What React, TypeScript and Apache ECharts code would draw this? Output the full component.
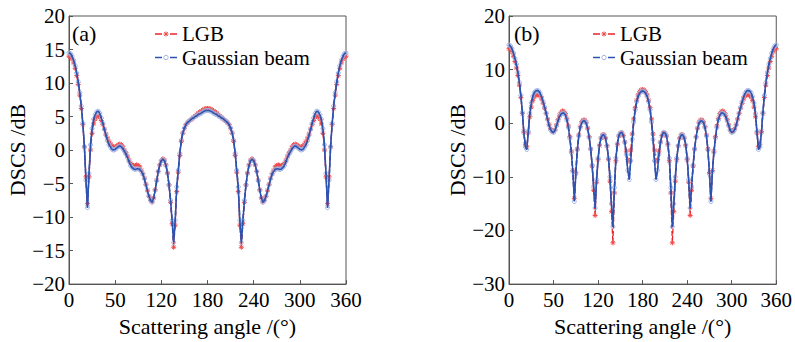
import React, { useEffect, useRef } from "react";
import * as echarts from "echarts";

const angles = [
  0, 2, 4, 6, 8, 10, 12, 14, 16, 18, 20, 22, 24, 26, 28, 30, 32, 34, 36, 38,
  40, 42, 44, 46, 48, 50, 52, 54, 56, 58, 60, 62, 64, 66, 68, 70, 72, 74, 76, 78,
  80, 82, 84, 86, 88, 90, 92, 94, 96, 98, 100, 102, 104, 106, 108, 110, 112, 114, 116, 118,
  120, 122, 124, 126, 128, 130, 132, 134, 136, 138, 140, 142, 144, 146, 148, 150, 152, 154, 156, 158,
  160, 162, 164, 166, 168, 170, 172, 174, 176, 178, 180, 182, 184, 186, 188, 190, 192, 194, 196, 198,
  200, 202, 204, 206, 208, 210, 212, 214, 216, 218, 220, 222, 224, 226, 228, 230, 232, 234, 236, 238,
  240, 242, 244, 246, 248, 250, 252, 254, 256, 258, 260, 262, 264, 266, 268, 270, 272, 274, 276, 278,
  280, 282, 284, 286, 288, 290, 292, 294, 296, 298, 300, 302, 304, 306, 308, 310, 312, 314, 316, 318,
  320, 322, 324, 326, 328, 330, 332, 334, 336, 338, 340, 342, 344, 346, 348, 350, 352, 354, 356, 358,
  360,
];

// Panel (a)
const lgbA = [
  14.0, 13.9, 13.6, 13.0, 12.2, 11.1, 9.8, 8.2, 6.2, 3.8,
  0.5, -4.0, -8.0, -4.0, 0.0, 2.5, 3.9, 4.6, 5.0, 5.1,
  4.9, 4.4, 3.8, 3.1, 2.4, 1.8, 1.3, 0.9, 0.6, 0.45,
  0.45, 0.6, 0.8, 0.9, 0.8, 0.5, 0.0, -0.4, -0.9, -1.5,
  -2.0, -2.2, -2.3, -2.3, -2.2, -2.3, -2.5, -3.0, -3.5, -4.2,
  -5.1, -6.0, -6.9, -7.5, -7.7, -7.1, -5.9, -4.5, -3.2, -2.2,
  -1.6, -1.3, -1.5, -2.2, -3.4, -5.2, -7.8, -11.0, -14.5, -11.2,
  -6.2, -3.3, -0.8, 1.3, 2.5, 3.2, 3.8, 4.1, 4.3, 4.5,
  4.7, 4.9, 5.1, 5.3, 5.5, 5.7, 5.8, 6.0, 6.1, 6.2,
  6.2,
  6.2, 6.1, 6.0, 5.8, 5.7, 5.5, 5.3, 5.1, 4.9, 4.7,
  4.5, 4.3, 4.1, 3.8, 3.2, 2.5, 1.3, -0.8, -3.3, -6.2,
  -11.2, -14.5, -11.0, -7.8, -5.2, -3.4, -2.2, -1.5, -1.3, -1.6,
  -2.2, -3.2, -4.5, -5.9, -7.1, -7.7, -7.5, -6.9, -6.0, -5.1,
  -4.2, -3.5, -3.0, -2.5, -2.3, -2.2, -2.3, -2.3, -2.2, -2.0,
  -1.5, -0.9, -0.4, 0.0, 0.5, 0.8, 0.9, 0.8, 0.6, 0.45,
  0.45, 0.6, 0.9, 1.3, 1.8, 2.4, 3.1, 3.8, 4.4, 4.9,
  5.1, 5.0, 4.6, 3.9, 2.5, 0.0, -4.0, -8.0, -4.0, 0.5,
  3.8, 6.2, 8.2, 9.8, 11.1, 12.2, 13.0, 13.6, 13.9, 14.0,
];

const gaussA = [
  14.5, 14.4, 14.0, 13.4, 12.6, 11.5, 10.2, 8.6, 6.6, 4.0,
  0.5, -4.5, -8.6, -3.5, 0.8, 3.2, 4.6, 5.3, 5.7, 5.8,
  5.5, 4.8, 4.0, 3.1, 2.2, 1.4, 0.8, 0.4, 0.1, 0.0,
  0.1, 0.3, 0.5, 0.6, 0.5, 0.2, -0.2, -0.6, -1.1, -1.7,
  -2.3, -2.6, -2.8, -2.9, -2.8, -2.8, -2.9, -3.2, -3.6, -4.3,
  -5.2, -6.1, -6.9, -7.5, -7.8, -7.2, -6.0, -4.6, -3.2, -2.2,
  -1.6, -1.4, -1.6, -2.3, -3.5, -5.2, -7.5, -10.5, -13.8, -10.5,
  -5.5, -3.0, -0.5, 1.5, 2.6, 3.3, 3.8, 4.1, 4.3, 4.5,
  4.7, 4.8, 5.0, 5.1, 5.3, 5.4, 5.5, 5.7, 5.8, 5.9,
  5.9,
  5.9, 5.8, 5.7, 5.5, 5.4, 5.3, 5.1, 5.0, 4.8, 4.7,
  4.5, 4.3, 4.1, 3.8, 3.3, 2.6, 1.5, -0.5, -3.0, -5.5,
  -10.5, -13.8, -10.5, -7.5, -5.2, -3.5, -2.3, -1.6, -1.4, -1.6,
  -2.2, -3.2, -4.6, -6.0, -7.2, -7.8, -7.5, -6.9, -6.1, -5.2,
  -4.3, -3.6, -3.2, -2.9, -2.8, -2.8, -2.9, -2.8, -2.6, -2.3,
  -1.7, -1.1, -0.6, -0.2, 0.2, 0.5, 0.6, 0.5, 0.3, 0.1,
  0.0, 0.1, 0.4, 0.8, 1.4, 2.2, 3.1, 4.0, 4.8, 5.5,
  5.8, 5.7, 5.3, 4.6, 3.2, 0.8, -3.5, -8.6, -4.5, 0.5,
  4.0, 6.6, 8.6, 10.2, 11.5, 12.6, 13.4, 14.0, 14.4, 14.5,
];

// Panel (b)
const lgbB = [
  13.9, 13.8, 13.3, 12.5, 11.5, 10.3, 8.9, 7.1, 4.8, 1.8,
  -1.5, -3.9, -4.4, -1.8, 1.2, 3.0, 4.2, 4.9, 5.2, 5.3,
  5.3, 5.0, 4.5, 3.7, 2.8, 1.8, 0.8, -0.2, -1.0, -1.5,
  -1.6, -1.2, -0.3, 0.7, 1.5, 2.0, 2.3, 2.2, 1.8, 0.9,
  -0.5, -2.5, -5.2, -8.8, -14.0, -9.2, -4.8, -2.2, -0.6, 0.3,
  0.6, 0.6, 0.2, -0.9, -2.5, -4.8, -8.0, -12.5, -17.2, -11.0,
  -6.8, -4.2, -2.8, -2.2, -2.1, -2.7, -4.2, -6.8, -10.8, -16.5,
  -22.3, -13.0, -7.0, -4.0, -2.4, -1.9, -1.8, -2.3, -3.5, -5.2,
  -6.8, -7.1, -5.0, -2.0, 0.8, 2.9, 4.3, 5.3, 5.9, 6.2,
  6.3,
  6.2, 5.9, 5.3, 4.3, 2.9, 0.8, -2.0, -5.0, -7.1, -6.8,
  -5.2, -3.5, -2.3, -1.8, -1.9, -2.4, -4.0, -7.0, -13.0, -22.3,
  -16.5, -10.8, -6.8, -4.2, -2.7, -2.1, -2.2, -2.8, -4.2, -6.8,
  -11.0, -17.2, -12.5, -8.0, -4.8, -2.5, -0.9, 0.2, 0.6, 0.6,
  0.3, -0.6, -2.2, -4.8, -9.2, -14.0, -8.8, -5.2, -2.5, -0.5,
  0.9, 1.8, 2.2, 2.3, 2.0, 1.5, 0.7, -0.3, -1.2, -1.6,
  -1.5, -1.0, -0.2, 0.8, 1.8, 2.8, 3.7, 4.5, 5.0, 5.3,
  5.3, 5.2, 4.9, 4.2, 3.0, 1.2, -1.8, -4.4, -3.9, -1.5,
  1.8, 4.8, 7.1, 8.9, 10.3, 11.5, 12.5, 13.3, 13.8, 13.9,
];

const gaussB = [
  14.6, 14.4, 13.9, 13.1, 12.1, 11.0, 9.5, 7.6, 5.2, 2.0,
  -1.8, -4.4, -4.9, -1.5, 1.8, 3.8, 5.0, 5.7, 6.0, 6.1,
  6.0, 5.6, 4.9, 4.0, 3.0, 1.9, 0.7, -0.4, -1.2, -1.6,
  -1.7, -1.3, -0.5, 0.4, 1.2, 1.7, 1.9, 1.9, 1.5, 0.6,
  -0.8, -2.8, -5.5, -9.0, -14.6, -9.5, -5.0, -2.4, -0.8, 0.1,
  0.4, 0.4, 0.0, -1.0, -2.6, -4.8, -7.8, -11.8, -15.8, -10.5,
  -6.5, -4.0, -2.7, -2.2, -2.2, -2.8, -4.2, -6.5, -10.0, -15.0,
  -19.3, -12.0, -6.5, -3.8, -2.3, -1.8, -1.7, -2.3, -3.6, -5.8,
  -8.8, -10.5, -7.0, -3.0, 0.2, 2.5, 4.0, 5.0, 5.6, 5.9,
  6.0,
  5.9, 5.6, 5.0, 4.0, 2.5, 0.2, -3.0, -7.0, -10.5, -8.8,
  -5.8, -3.6, -2.3, -1.7, -1.8, -2.3, -3.8, -6.5, -12.0, -19.3,
  -15.0, -10.0, -6.5, -4.2, -2.8, -2.2, -2.2, -2.7, -4.0, -6.5,
  -10.5, -15.8, -11.8, -7.8, -4.8, -2.6, -1.0, 0.0, 0.4, 0.4,
  0.1, -0.8, -2.4, -5.0, -9.5, -14.6, -9.0, -5.5, -2.8, -0.8,
  0.6, 1.5, 1.9, 1.9, 1.7, 1.2, 0.4, -0.5, -1.3, -1.7,
  -1.6, -1.2, -0.4, 0.7, 1.9, 3.0, 4.0, 4.9, 5.6, 6.0,
  6.1, 6.0, 5.7, 5.0, 3.8, 1.8, -1.5, -4.9, -4.4, -1.8,
  2.0, 5.2, 7.6, 9.5, 11.0, 12.1, 13.1, 13.9, 14.4, 14.6,
];

const xTickLabels = ["0", "50", "120", "180", "240", "300", "360"];
const seriesNames = ["LGB", "Gaussian beam"];
const panelLabels = ["(a)", "(b)"];
const xAxisTitle = "Scattering angle /(°)";
const yAxisTitle = "DSCS /dB";

const FONT = "Liberation Serif, DejaVu Serif, Noto Serif, Times New Roman, serif";
const RED = "#e8232a";
const RED_MARK = "#f24a4a";
const BLUE = "#2d53b0";
const BLUE_MARK = "#9fb2e2";
const STAR = "path://M5,0L5,10M0,5L10,5M1.5,1.5L8.5,8.5M1.5,8.5L8.5,1.5";

function pairs(vals: number[]) {
  return angles.map((a, i) => [a, vals[i]]);
}

function legendGraphics(x0: number, rowYs: number[]): any[] {
  const out: any[] = [];
  const rows = [
    { name: seriesNames[0], color: RED, mark: "star" },
    { name: seriesNames[1], color: BLUE, mark: "circle" },
  ];
  rows.forEach((r, i) => {
    const y = rowYs[i];
    const cx = x0 + 11;
    out.push({ type: "line", shape: { x1: x0, y1: y, x2: x0 + 7, y2: y }, style: { stroke: r.color, lineWidth: 1.5 }, silent: true });
    out.push({ type: "line", shape: { x1: x0 + 15, y1: y, x2: x0 + 22, y2: y }, style: { stroke: r.color, lineWidth: 1.5 }, silent: true });
    if (r.mark === "star") {
      out.push({ type: "line", shape: { x1: cx - 2.5, y1: y, x2: cx + 2.5, y2: y }, style: { stroke: RED_MARK, lineWidth: 1 }, silent: true });
      out.push({ type: "line", shape: { x1: cx, y1: y - 2.5, x2: cx, y2: y + 2.5 }, style: { stroke: RED_MARK, lineWidth: 1 }, silent: true });
      out.push({ type: "line", shape: { x1: cx - 1.8, y1: y - 1.8, x2: cx + 1.8, y2: y + 1.8 }, style: { stroke: RED_MARK, lineWidth: 1 }, silent: true });
      out.push({ type: "line", shape: { x1: cx - 1.8, y1: y + 1.8, x2: cx + 1.8, y2: y - 1.8 }, style: { stroke: RED_MARK, lineWidth: 1 }, silent: true });
    } else {
      out.push({ type: "circle", shape: { cx, cy: y, r: 2.2 }, style: { fill: "none", stroke: BLUE_MARK, lineWidth: 1 }, silent: true });
    }
    out.push({
      type: "text",
      x: x0 + 27,
      y,
      silent: true,
      style: { text: r.name, fontSize: 21, fontFamily: FONT, fill: "#000", verticalAlign: "middle", align: "left" },
    });
  });
  return out;
}

const richTick = { t: { fontFamily: FONT, fontSize: 21, color: "#000" } };
const richName = { t: { fontFamily: FONT, fontSize: 22, color: "#000" } };

export default function App() {
  const ref = useRef<HTMLDivElement>(null);
  useEffect(() => {
    if (!ref.current) return;
    const chart = echarts.init(ref.current, undefined, { renderer: "svg" });
    const grids = [
      { left: 69, top: 16, width: 277, height: 270 },
      { left: 509, top: 16, width: 268, height: 270 },
    ];
    const yRanges = [
      { min: -20, max: 20, interval: 5 },
      { min: -30, max: 20, interval: 10 },
    ];
    const data = [
      [lgbA, gaussA],
      [lgbB, gaussB],
    ];
    const series: any[] = [];
    data.forEach(([lgb, gb], p) => {
      series.push({
        type: "line",
        name: seriesNames[0],
        xAxisIndex: p,
        yAxisIndex: p,
        data: pairs(lgb),
        symbol: STAR,
        symbolSize: 5,
        showAllSymbol: true,
        itemStyle: { color: "rgba(0,0,0,0)", borderColor: RED_MARK, borderWidth: 1 },
        lineStyle: { color: RED, width: 1.3, type: [5, 2] },
        z: 2,
      });
      series.push({
        type: "line",
        name: seriesNames[1],
        xAxisIndex: p,
        yAxisIndex: p,
        data: pairs(gb),
        symbol: "circle",
        symbolSize: 4,
        showAllSymbol: true,
        itemStyle: { color: "rgba(255,255,255,0)", borderColor: BLUE_MARK, borderWidth: 1 },
        lineStyle: { color: BLUE, width: 1.5, type: [5, 2] },
        z: 3,
      });
      series.push({
        type: "line",
        name: "gb-line-" + p,
        xAxisIndex: p,
        yAxisIndex: p,
        data: pairs(gb),
        showSymbol: false,
        silent: true,
        lineStyle: { color: BLUE, width: 1.5 },
        z: 4,
      });
    });

    const txt = { fontFamily: FONT, color: "#000", fontSize: 21 };

    const option: any = {
      animation: false,
      backgroundColor: "#fff",
      textStyle: { fontFamily: FONT },
      grid: grids.map((g) => ({
        ...g,
        show: true,
        borderColor: "#555",
        borderWidth: 1,
        backgroundColor: "transparent",
      })),
      xAxis: grids.map((_, i) => ({
        type: "value",
        gridIndex: i,
        min: 0,
        max: 360,
        interval: 60,
        name: "{t|" + xAxisTitle + "}",
        nameLocation: "middle",
        nameGap: 22,
        nameTextStyle: { ...txt, fontSize: 22, rich: richName },
        axisLine: { show: true, onZero: false, lineStyle: { color: "#555", width: 1 } },
        axisTick: { show: true, inside: true, length: 4, lineStyle: { color: "#555" } },
        axisLabel: {
          ...txt,
          margin: 5,
          rich: richTick,
          formatter: (v: number) => "{t|" + (xTickLabels[Math.round(v / 60)] ?? "") + "}",
        },
        splitLine: { show: false },
      })),
      yAxis: grids.map((_, i) => ({
        type: "value",
        gridIndex: i,
        ...yRanges[i],
        name: "{t|" + yAxisTitle + "}",
        nameLocation: "middle",
        nameGap: 40,
        nameTextStyle: { ...txt, fontSize: 22, rich: richName },
        axisLine: { show: true, onZero: false, lineStyle: { color: "#555", width: 1 } },
        axisTick: { show: true, inside: true, length: 4, lineStyle: { color: "#555" } },
        axisLabel: {
          ...txt,
          margin: 4,
          rich: richTick,
          formatter: (v: number) => "{t|" + String(v).replace("-", "\u2212") + "}",
        },
        splitLine: { show: false },
      })),
      graphic: [
        { type: "text", x: 72, y: 33, style: { text: panelLabels[0], fontSize: 22, fontFamily: FONT, fill: "#000", verticalAlign: "middle" } },
        { type: "text", x: 514, y: 33, style: { text: panelLabels[1], fontSize: 22, fontFamily: FONT, fill: "#000", verticalAlign: "middle" } },
        ...legendGraphics(155, [34, 57.5]),
        ...legendGraphics(593, [34, 57.5]),
      ],
      series,
    };
    chart.setOption(option);
    return () => chart.dispose();
  }, []);
  return (
    <div
      ref={ref}
      style={{ position: "absolute", left: 0, top: 0, width: 795, height: 342 }}
    />
  );
}
